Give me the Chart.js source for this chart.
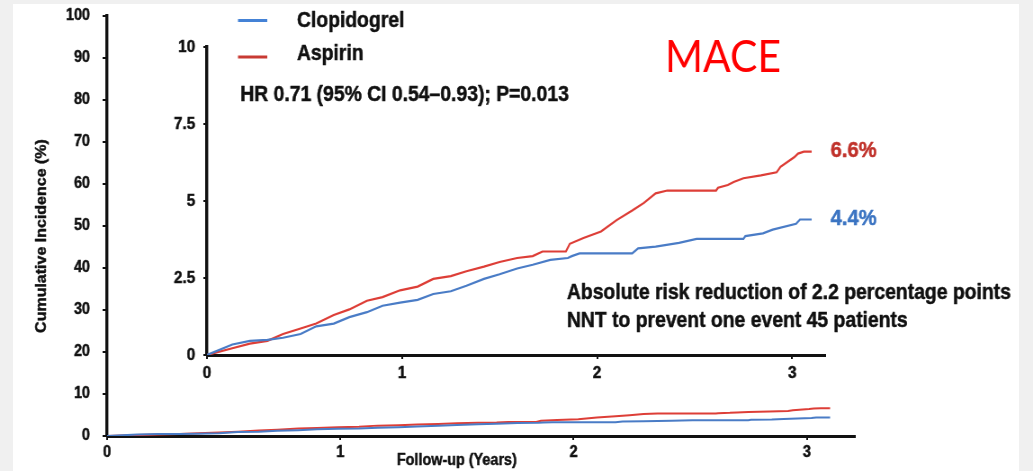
<!DOCTYPE html>
<html>
<head>
<meta charset="utf-8">
<script src="https://cdn.jsdelivr.net/npm/chart.js@4.4.1/dist/chart.umd.min.js"></script>
<style>
  html, body { margin: 0; padding: 0; width: 1033px; height: 471px; overflow: hidden; background: #f0f0f0; }
  #panel { position: absolute; left: 13px; top: 4px; width: 1006px; height: 467px; background: #ffffff; }
  canvas { position: absolute; left: 0; top: 0; }
</style>
</head>
<body>
<div id="panel"></div>
<!-- Both charts render on a wider canvas that is displayed slightly narrower, giving the condensed lettering -->
<canvas id="mainChart" width="1148" height="471" style="width:1033px;height:471px"></canvas>
<canvas id="insetChart" width="1148" height="471" style="width:1033px;height:471px"></canvas>
<script>
// ---- Kaplan-Meier cumulative incidence of MACE (%) by follow-up year ----
const seriesNames = ['Clopidogrel', 'Aspirin'];

const clopidogrelYears = [0, 0.13, 0.22, 0.31, 0.39, 0.48, 0.56, 0.65, 0.73, 0.82, 0.90, 0.99, 1.08, 1.16, 1.25, 1.33, 1.42, 1.50, 1.59, 1.67, 1.76, 1.85, 1.87, 1.91, 2.18, 2.21, 2.30, 2.42, 2.51, 2.75, 2.76, 2.85, 2.90, 3.02, 3.04, 3.10];
const clopidogrelPct   = [0, 0.34, 0.46, 0.49, 0.56, 0.68, 0.93, 1.02, 1.23, 1.39, 1.60, 1.70, 1.79, 1.98, 2.07, 2.25, 2.47, 2.62, 2.81, 2.93, 3.09, 3.15, 3.21, 3.30, 3.30, 3.46, 3.52, 3.64, 3.77, 3.77, 3.86, 3.95, 4.07, 4.26, 4.40, 4.40];

const aspirinYears = [0, 0.13, 0.22, 0.31, 0.39, 0.48, 0.56, 0.65, 0.73, 0.82, 0.90, 0.99, 1.08, 1.16, 1.25, 1.33, 1.42, 1.50, 1.59, 1.67, 1.72, 1.84, 1.86, 1.93, 2.02, 2.10, 2.18, 2.24, 2.30, 2.36, 2.61, 2.62, 2.67, 2.70, 2.75, 2.84, 2.92, 2.94, 3.01, 3.03, 3.06, 3.10];
const aspirinPct   = [0, 0.22, 0.37, 0.46, 0.68, 0.86, 1.02, 1.30, 1.48, 1.76, 1.88, 2.10, 2.22, 2.47, 2.56, 2.72, 2.87, 3.02, 3.15, 3.21, 3.36, 3.36, 3.61, 3.80, 4.01, 4.38, 4.69, 4.94, 5.25, 5.34, 5.34, 5.43, 5.52, 5.62, 5.74, 5.83, 5.93, 6.11, 6.42, 6.54, 6.60, 6.60];

const yearTicks = [0, 1, 2, 3];
const mainPctTicks = [0, 10, 20, 30, 40, 50, 60, 70, 80, 90, 100];
const insetPctTicks = [0, 2.5, 5, 7.5, 10];

const titleText = 'MACE';
const hrText = 'HR 0.71 (95% CI 0.54\u20130.93); P=0.013';
const noteLines = ['Absolute risk reduction of 2.2 percentage points', 'NNT to prevent one event 45 patients'];
const xTitle = 'Follow-up (Years)';
const yTitle = 'Cumulative Incidence (%)';

// ---- styling ----
const SQUASH = 1033 / 1148;
const FONT = "'Liberation Sans', Arial, Helvetica, sans-serif";
const BLUE = '#4a7cc6';
const RED = '#dd3e37';
const BLUE_LABEL = '#3b74c2';
const RED_LABEL = '#c0322b';
const INK = '#111111';
const HEAVY = 0.5; // extra outline that gives the bold lettering its weight

const toPoints = (xs, ys) => xs.map((x, i) => ({ x: x, y: ys[i] }));

function makeDatasets(width) {
  return [
    { label: seriesNames[0], data: toPoints(clopidogrelYears, clopidogrelPct), borderColor: BLUE, borderWidth: width, pointRadius: 0, tension: 0, fill: false },
    { label: seriesNames[1], data: toPoints(aspirinYears, aspirinPct), borderColor: RED, borderWidth: width, pointRadius: 0, tension: 0, fill: false }
  ];
}

function axisStyle(tickList, fontSize, tickLen, pad, borderWidth) {
  return {
    afterBuildTicks: s => { s.ticks = tickList.map(v => ({ value: v })); },
    grid: { display: true, drawOnChartArea: false, drawTicks: true, tickLength: tickLen, color: INK, lineWidth: 2 },
    border: { display: true, color: INK, width: borderWidth },
    ticks: {
      color: INK, padding: pad, maxRotation: 0, autoSkip: false,
      textStrokeColor: INK, textStrokeWidth: HEAVY,
      font: { family: FONT, size: fontSize, weight: 'bold' }
    }
  };
}

// fixed-width value axis that does not reserve extra room for its end labels
const fixedWidth = w => s => { s.width = w; s.paddingTop = 0; s.paddingBottom = 0; };
const fixedHeight = h => s => { s.height = h; };

function boldText(ctx, text, x, y, color) {
  ctx.fillStyle = color;
  ctx.strokeStyle = color;
  ctx.lineWidth = HEAVY;
  ctx.lineJoin = 'round';
  ctx.fillText(text, x, y);
  ctx.strokeText(text, x, y);
}

// axis titles of the full-scale chart
const mainTitles = {
  id: 'mainTitles',
  afterDraw(chart) {
    const ctx = chart.ctx;
    ctx.save();
    ctx.font = 'bold 16px ' + FONT;
    ctx.textAlign = 'left';
    ctx.textBaseline = 'alphabetic';
    boldText(ctx, xTitle, 441, 465, INK);
    ctx.translate(46.5, 236);
    ctx.rotate(-Math.PI / 2);
    ctx.textAlign = 'center';
    ctx.textBaseline = 'middle';
    boldText(ctx, yTitle, 0, 0, INK);
    ctx.restore();
  }
};

// legend, statistics, end-of-curve values and heading over the zoomed chart
const insetText = {
  id: 'insetText',
  afterDraw(chart) {
    const ctx = chart.ctx;
    ctx.save();
    ctx.textAlign = 'left';
    ctx.textBaseline = 'alphabetic';

    // legend
    const legendRows = [
      { name: seriesNames[0], color: '#4482d6', lineY: 20.5, textY: 26.5 },
      { name: seriesNames[1], color: '#c83a33', lineY: 57, textY: 59.5 }
    ];
    ctx.font = 'bold 21.5px ' + FONT;
    legendRows.forEach(r => {
      ctx.strokeStyle = r.color;
      ctx.lineWidth = 3;
      ctx.beginPath();
      ctx.moveTo(264.5, r.lineY);
      ctx.lineTo(297, r.lineY);
      ctx.stroke();
      boldText(ctx, r.name, 330, r.textY, INK);
    });

    // hazard ratio
    boldText(ctx, hrText, 267, 101, INK);

    // risk reduction notes
    boldText(ctx, noteLines[0], 630, 298.5, INK);
    boldText(ctx, noteLines[1], 630, 327, INK);

    // final cumulative incidence next to each curve
    const labelColors = [BLUE_LABEL, RED_LABEL];
    ctx.font = 'bold 22.5px ' + FONT;
    ctx.textBaseline = 'middle';
    chart.data.datasets.forEach((ds, i) => {
      const meta = chart.getDatasetMeta(i);
      const last = meta.data[meta.data.length - 1];
      const value = ds.data[ds.data.length - 1].y;
      boldText(ctx, value.toFixed(1) + '%', last.x + 21, last.y - 1, labelColors[i]);
    });

    // heading, drawn at normal proportions
    ctx.scale(1 / SQUASH, 1);
    ctx.fillStyle = '#ff0000';
    ctx.textBaseline = 'alphabetic';
    ctx.font = '45px Lato, "Open Sans", sans-serif';
    ctx.fillText(titleText, 665, 72, 116);
    ctx.restore();
  }
};

const mainXAxis = Object.assign({ type: 'linear', min: 0, max: 3.206, afterFit: fixedHeight(35) }, axisStyle(yearTicks, 16, 4, 3, 3));
const mainYAxis = Object.assign({ type: 'linear', min: 0, max: 100, afterFit: fixedWidth(119) }, axisStyle(mainPctTicks, 16, 5, 14, 3.4));

new Chart(document.getElementById('mainChart'), {
  type: 'line',
  data: { datasets: makeDatasets(2) },
  options: {
    responsive: false,
    animation: false,
    devicePixelRatio: 1,
    layout: { padding: { left: 0, top: 16, right: 198, bottom: 0 } },
    plugins: { legend: { display: false }, tooltip: { enabled: false } },
    scales: { x: mainXAxis, y: mainYAxis }
  },
  plugins: [mainTitles]
});

const insetXAxis = Object.assign({ type: 'linear', min: 0, max: 3.169, afterFit: fixedHeight(116) }, axisStyle(yearTicks, 17, 4, 4, 3));
const insetYAxis = Object.assign({ type: 'linear', min: 0, max: 10, afterFit: fixedWidth(230) }, axisStyle(insetPctTicks, 17, 4, 9, 3.4));

new Chart(document.getElementById('insetChart'), {
  type: 'line',
  data: { datasets: makeDatasets(2.2) },
  options: {
    responsive: false,
    animation: false,
    devicePixelRatio: 1,
    layout: { padding: { left: 0, top: 47, right: 231, bottom: 0 } },
    plugins: { legend: { display: false }, tooltip: { enabled: false } },
    scales: { x: insetXAxis, y: insetYAxis }
  },
  plugins: [insetText]
});
</script>
</body>
</html>
